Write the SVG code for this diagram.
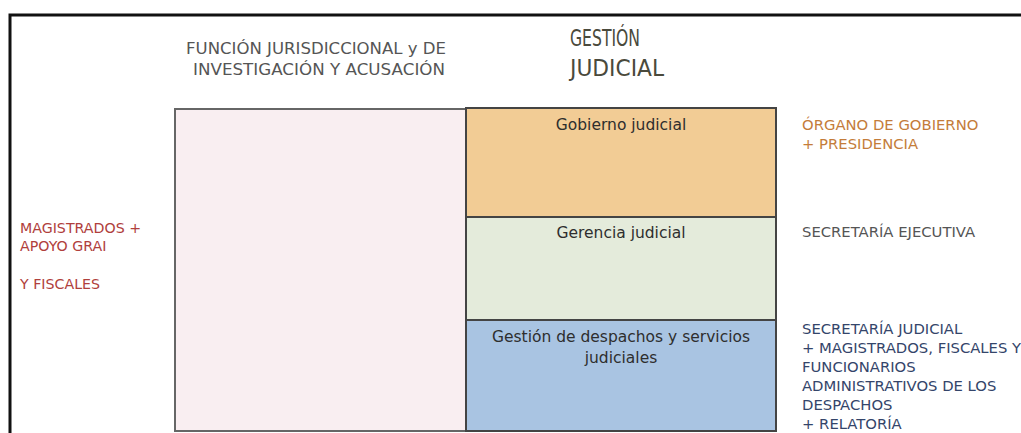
<svg xmlns="http://www.w3.org/2000/svg" width="1021" height="433" viewBox="0 0 1021 433">
<style>
.hdr{font-family:"DejaVu Sans",sans-serif;font-size:16.5px;fill:#555}
.gest{font-family:"DejaVu Sans Condensed","DejaVu Sans",sans-serif;font-size:23px;fill:#4a4a3c}
.box{font-family:"DejaVu Sans",sans-serif;font-size:15.5px;fill:#2e2e2e;text-anchor:middle}
.lbl{font-family:"DejaVu Sans",sans-serif;font-size:14.8px}
.lft{font-family:"DejaVu Sans",sans-serif;font-size:14.2px}
.red{fill:#b0403c}
.org{fill:#c47c3a}
.gry{fill:#555}
.blu{fill:#34456a}
.edge{stroke:#444;stroke-width:2}
</style>
<rect width="1021" height="433" fill="#fff"/>
<path d="M10 440 V15 H1030" fill="none" stroke="#111" stroke-width="3"/>
<g id="header">
<text class="hdr" x="186" y="54" textLength="260" lengthAdjust="spacingAndGlyphs">FUNCIÓN JURISDICCIONAL y DE</text>
<text class="hdr" x="193" y="75" textLength="252" lengthAdjust="spacingAndGlyphs">INVESTIGACIÓN Y ACUSACIÓN</text>
<text class="gest" x="570" y="46" textLength="70" lengthAdjust="spacingAndGlyphs">GESTIÓN</text>
<text class="gest" x="570" y="76" textLength="94" lengthAdjust="spacingAndGlyphs">JUDICIAL</text>
</g>
<g id="funcion">
<rect x="175" y="109" width="291" height="322" fill="#f9eef1" stroke="#666" stroke-width="2"/>
</g>
<g id="gobierno">
<rect x="466" y="108" width="310" height="109" fill="#f2cc95" class="edge"/>
<text class="box" x="621" y="130">Gobierno judicial</text>
</g>
<g id="gerencia">
<rect x="466" y="217" width="310" height="103" fill="#e4ebdb" class="edge"/>
<text class="box" x="621" y="238">Gerencia judicial</text>
</g>
<g id="despachos">
<rect x="466" y="320" width="310" height="111" fill="#a9c4e2" class="edge"/>
<text class="box" x="621" y="342">Gestión de despachos y servicios</text>
<text class="box" x="621" y="363">judiciales</text>
</g>
<g id="left-labels" class="lft red">
<text x="20" y="233">MAGISTRADOS +</text>
<text x="20" y="251">APOYO GRAI</text>
<text x="20" y="289">Y FISCALES</text>
</g>
<g id="right-labels" class="lbl">
<text class="org" x="802" y="130">ÓRGANO DE GOBIERNO</text>
<text class="org" x="802" y="149">+ PRESIDENCIA</text>
<text class="gry" x="802" y="237">SECRETARÍA EJECUTIVA</text>
<text class="blu" x="802" y="334">SECRETARÍA JUDICIAL</text>
<text class="blu" x="802" y="353">+ MAGISTRADOS, FISCALES Y</text>
<text class="blu" x="802" y="372">FUNCIONARIOS</text>
<text class="blu" x="802" y="391">ADMINISTRATIVOS DE LOS</text>
<text class="blu" x="802" y="410">DESPACHOS</text>
<text class="blu" x="802" y="429">+ RELATORÍA</text>
</g>
<g id="connectors"></g>
</svg>
